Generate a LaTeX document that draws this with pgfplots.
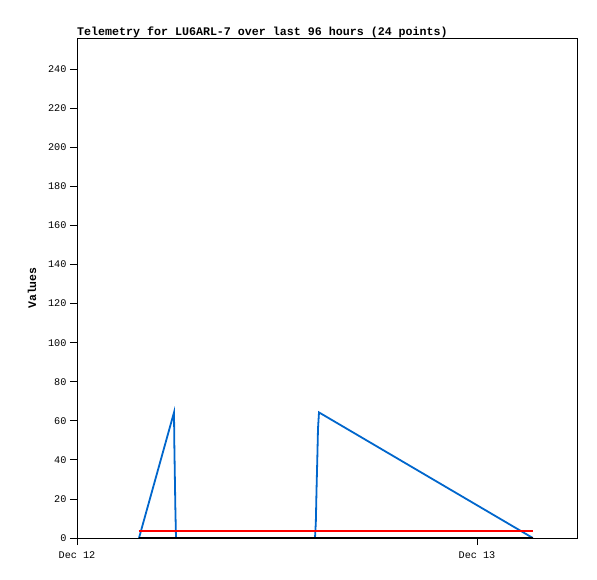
\documentclass[border=0pt]{standalone}
\usepackage{fontspec}
\setmainfont{Liberation Mono}
\setmonofont{Liberation Mono}
\usepackage{pgfplots}
\pgfplotsset{compat=1.18}
\definecolor{tblue}{RGB}{0,102,204}
\begin{document}
\begin{tikzpicture}
\begin{axis}[
  scale only axis,
  width=500pt, height=500pt,
  xmin=0, xmax=30, ymin=0, ymax=256,
  xtick={0,24}, xticklabels={Dec 12,Dec 13},
  ytick={0,20,...,240},
  xtick pos=bottom, ytick pos=left,
  tick align=outside, major tick length=7pt,
  tick style={black, line width=0.8pt},
  axis line style={line width=0.8pt},
  ticklabel style={font=\fontsize{10.2}{11}\selectfont},
  xticklabel style={yshift=-3pt},
  /pgf/number format/assume math mode=true,
  ylabel={\textbf{Values}},
  ylabel style={font=\fontsize{11.5}{12}\selectfont, at={(axis description cs:-0.09,0.5)}, anchor=center},
  title={\textbf{Telemetry for LU6ARL-7 over last 96 hours (24 points)}},
  title style={font=\fontsize{11.65}{12}\selectfont, anchor=base west, inner sep=0pt, at={(axis description cs:0,1)}, yshift=-4pt},
  clip=false,
]
\addplot[tblue, line width=1.8pt] coordinates {
(3.72,0) (5.82,64.3) (5.84,48) (5.90,16) (5.94,0) (14.28,0) (14.33,8) (14.37,24) (14.42,41) (14.46,56) (14.52,64.3) (27.35,0)
};
\addplot[red, line width=1.8pt] coordinates {(3.70,3.6) (27.35,3.6)};
\addplot[black, line width=2pt] coordinates {(3.70,0) (27.35,0)};
\end{axis}
\pgfresetboundingbox
\path[use as bounding box] ([xshift=-77pt,yshift=-41pt]current axis.south west) rectangle ([xshift=20pt,yshift=38pt]current axis.north east);
\end{tikzpicture}
\end{document}
